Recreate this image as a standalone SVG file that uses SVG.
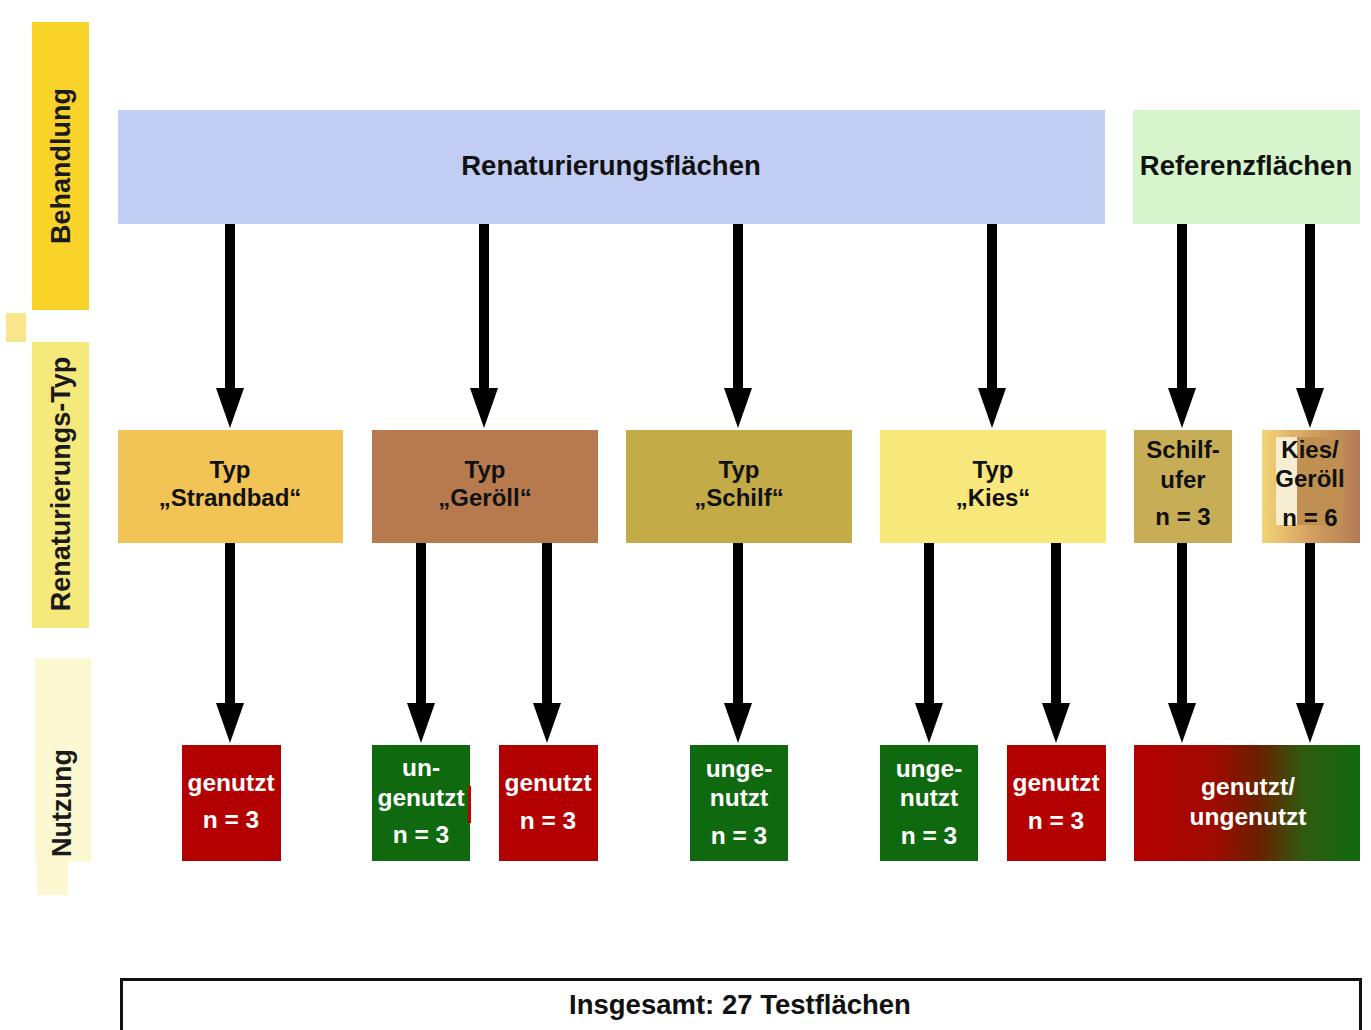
<svg xmlns="http://www.w3.org/2000/svg" width="1371" height="1030" viewBox="0 0 1371 1030">
<style>
text{font-family:"Liberation Sans",Arial,sans-serif;font-weight:bold;text-anchor:middle}
.dk{fill:#111}
.wt{fill:#fff}
.lbl{font-size:27px;fill:#1a1a1a}
.typ{font-size:24px}
.use{font-size:24.5px}
.conn{stroke:#000;stroke-width:10;fill:none;marker-end:url(#ah)}
</style>
<defs>
<marker id="ah" markerUnits="userSpaceOnUse" markerWidth="40" markerHeight="28" refX="2" refY="14" orient="auto" viewBox="0 0 40 28">
<path d="M0,0 L40,14 L0,28 Z" fill="#000"/>
</marker>
<linearGradient id="gKG" x1="0" x2="1" y1="0" y2="0">
<stop offset="0" stop-color="#f2d478"/>
<stop offset="0.5" stop-color="#d4a060"/>
<stop offset="1" stop-color="#b27a55"/>
</linearGradient>
<linearGradient id="gRG" x1="0" x2="1" y1="0" y2="0">
<stop offset="0" stop-color="#b40000"/>
<stop offset="0.35" stop-color="#a00a00"/>
<stop offset="0.55" stop-color="#6a2000"/>
<stop offset="0.75" stop-color="#2f5a10"/>
<stop offset="1" stop-color="#0f6a0f"/>
</linearGradient>
</defs>
<rect width="1371" height="1030" fill="#fff"/>

<g id="label-behandlung">
<rect x="32" y="22" width="57" height="288" fill="#f9d22a"/>
<text class="lbl" transform="translate(70 166) rotate(-90)">Behandlung</text>
</g>
<rect x="6" y="313" width="20" height="29" fill="#f8e68c"/>
<g id="label-typ">
<rect x="32" y="342" width="57" height="286" fill="#f6e97c"/>
<text class="lbl" transform="translate(70 484) rotate(-90)">Renaturierungs-Typ</text>
</g>
<g id="label-nutzung">
<rect x="35" y="658" width="56" height="204" fill="#fbf8d2"/>
<rect x="37" y="862" width="31" height="33" fill="#fbf8d2"/>
<text class="lbl" transform="translate(71 803) rotate(-90)">Nutzung</text>
</g>

<g id="connectors">
<line class="conn" x1="230" y1="224" x2="230" y2="390"/>
<line class="conn" x1="484" y1="224" x2="484" y2="390"/>
<line class="conn" x1="738" y1="224" x2="738" y2="390"/>
<line class="conn" x1="992" y1="224" x2="992" y2="390"/>
<line class="conn" x1="1182" y1="224" x2="1182" y2="390"/>
<line class="conn" x1="1310" y1="224" x2="1310" y2="390"/>
<line class="conn" x1="230" y1="543" x2="230" y2="705"/>
<line class="conn" x1="421" y1="543" x2="421" y2="705"/>
<line class="conn" x1="547" y1="543" x2="547" y2="705"/>
<line class="conn" x1="738" y1="543" x2="738" y2="705"/>
<line class="conn" x1="929" y1="543" x2="929" y2="705"/>
<line class="conn" x1="1056" y1="543" x2="1056" y2="705"/>
<line class="conn" x1="1182" y1="543" x2="1182" y2="705"/>
<line class="conn" x1="1310" y1="543" x2="1310" y2="705"/>
</g>

<g id="renaturierungsflaechen">
<rect x="118" y="110" width="987" height="114" fill="#c2cdf4"/>
<text class="dk" x="611" y="175" font-size="27.5">Renaturierungsflächen</text>
</g>
<g id="referenzflaechen">
<rect x="1133" y="110" width="227" height="114" fill="#d6f5cc"/>
<text class="dk" x="1246" y="175" font-size="27.5">Referenzflächen</text>
</g>

<g id="typ-strandbad">
<rect x="118" y="430" width="225" height="113" fill="#f2c355"/>
<text class="dk typ" x="230" y="478">Typ</text>
<text class="dk typ" x="230" y="506">„Strandbad“</text>
</g>
<g id="typ-geroell">
<rect x="372" y="430" width="226" height="113" fill="#b77a4f"/>
<text class="dk typ" x="485" y="478">Typ</text>
<text class="dk typ" x="485" y="506">„Geröll“</text>
</g>
<g id="typ-schilf">
<rect x="626" y="430" width="226" height="113" fill="#c3ac48"/>
<text class="dk typ" x="739" y="478">Typ</text>
<text class="dk typ" x="739" y="506">„Schilf“</text>
</g>
<g id="typ-kies">
<rect x="880" y="430" width="226" height="113" fill="#f8e77b"/>
<text class="dk typ" x="993" y="478">Typ</text>
<text class="dk typ" x="993" y="506">„Kies“</text>
</g>
<g id="schilfufer">
<rect x="1134" y="430" width="98" height="113" fill="#c8ad57"/>
<text class="dk typ" x="1183" y="458" font-size="25">Schilf-</text>
<text class="dk typ" x="1183" y="488" font-size="25">ufer</text>
<text class="dk typ" x="1183" y="525" font-size="25">n = 3</text>
</g>
<g id="kies-geroell">
<rect x="1262" y="430" width="98" height="113" fill="url(#gKG)"/>
<rect x="1276" y="437" width="21" height="88" fill="#f7edd2"/>
<rect x="1297" y="437" width="46" height="88" fill="#c09052"/>
<text class="dk typ" x="1310" y="458" font-size="25">Kies/</text>
<text class="dk typ" x="1310" y="487" font-size="25">Geröll</text>
<text class="dk typ" x="1310" y="526" font-size="25">n = 6</text>
</g>

<g id="nutzung-strandbad">
<rect x="182" y="745" width="99" height="116" fill="#b30000"/>
<text class="wt use" x="231" y="791">genutzt</text>
<text class="wt use" x="231" y="828">n = 3</text>
</g>
<g id="nutzung-geroell-ungenutzt">
<rect x="372" y="745" width="98" height="116" fill="#0f6a0f"/>
<rect x="468" y="786" width="3" height="37" fill="#c00000"/>
<text class="wt use" x="421" y="776">un-</text>
<text class="wt use" x="421" y="806">genutzt</text>
<text class="wt use" x="421" y="843">n = 3</text>
</g>
<g id="nutzung-geroell-genutzt">
<rect x="499" y="745" width="99" height="116" fill="#b30000"/>
<text class="wt use" x="548" y="791">genutzt</text>
<text class="wt use" x="548" y="829">n = 3</text>
</g>
<g id="nutzung-schilf">
<rect x="690" y="745" width="98" height="116" fill="#0f6a0f"/>
<text class="wt use" x="739" y="777">unge-</text>
<text class="wt use" x="739" y="806">nutzt</text>
<text class="wt use" x="739" y="844">n = 3</text>
</g>
<g id="nutzung-kies-ungenutzt">
<rect x="880" y="745" width="98" height="116" fill="#0f6a0f"/>
<text class="wt use" x="929" y="777">unge-</text>
<text class="wt use" x="929" y="806">nutzt</text>
<text class="wt use" x="929" y="844">n = 3</text>
</g>
<g id="nutzung-kies-genutzt">
<rect x="1007" y="745" width="99" height="116" fill="#b30000"/>
<text class="wt use" x="1056" y="791">genutzt</text>
<text class="wt use" x="1056" y="829">n = 3</text>
</g>
<g id="nutzung-referenz">
<rect x="1134" y="745" width="226" height="116" fill="url(#gRG)"/>
<text class="wt use" x="1248" y="795" fill="#f4e8e0">genutzt/</text>
<text class="wt use" x="1248" y="825" fill="#f4e8e0">ungenutzt</text>
</g>

<g id="insgesamt">
<rect x="121.5" y="979.5" width="1239" height="60" fill="#fff" stroke="#111" stroke-width="3"/>
<text class="dk" x="740" y="1014" font-size="27.5">Insgesamt: 27 Testflächen</text>
</g>
</svg>
